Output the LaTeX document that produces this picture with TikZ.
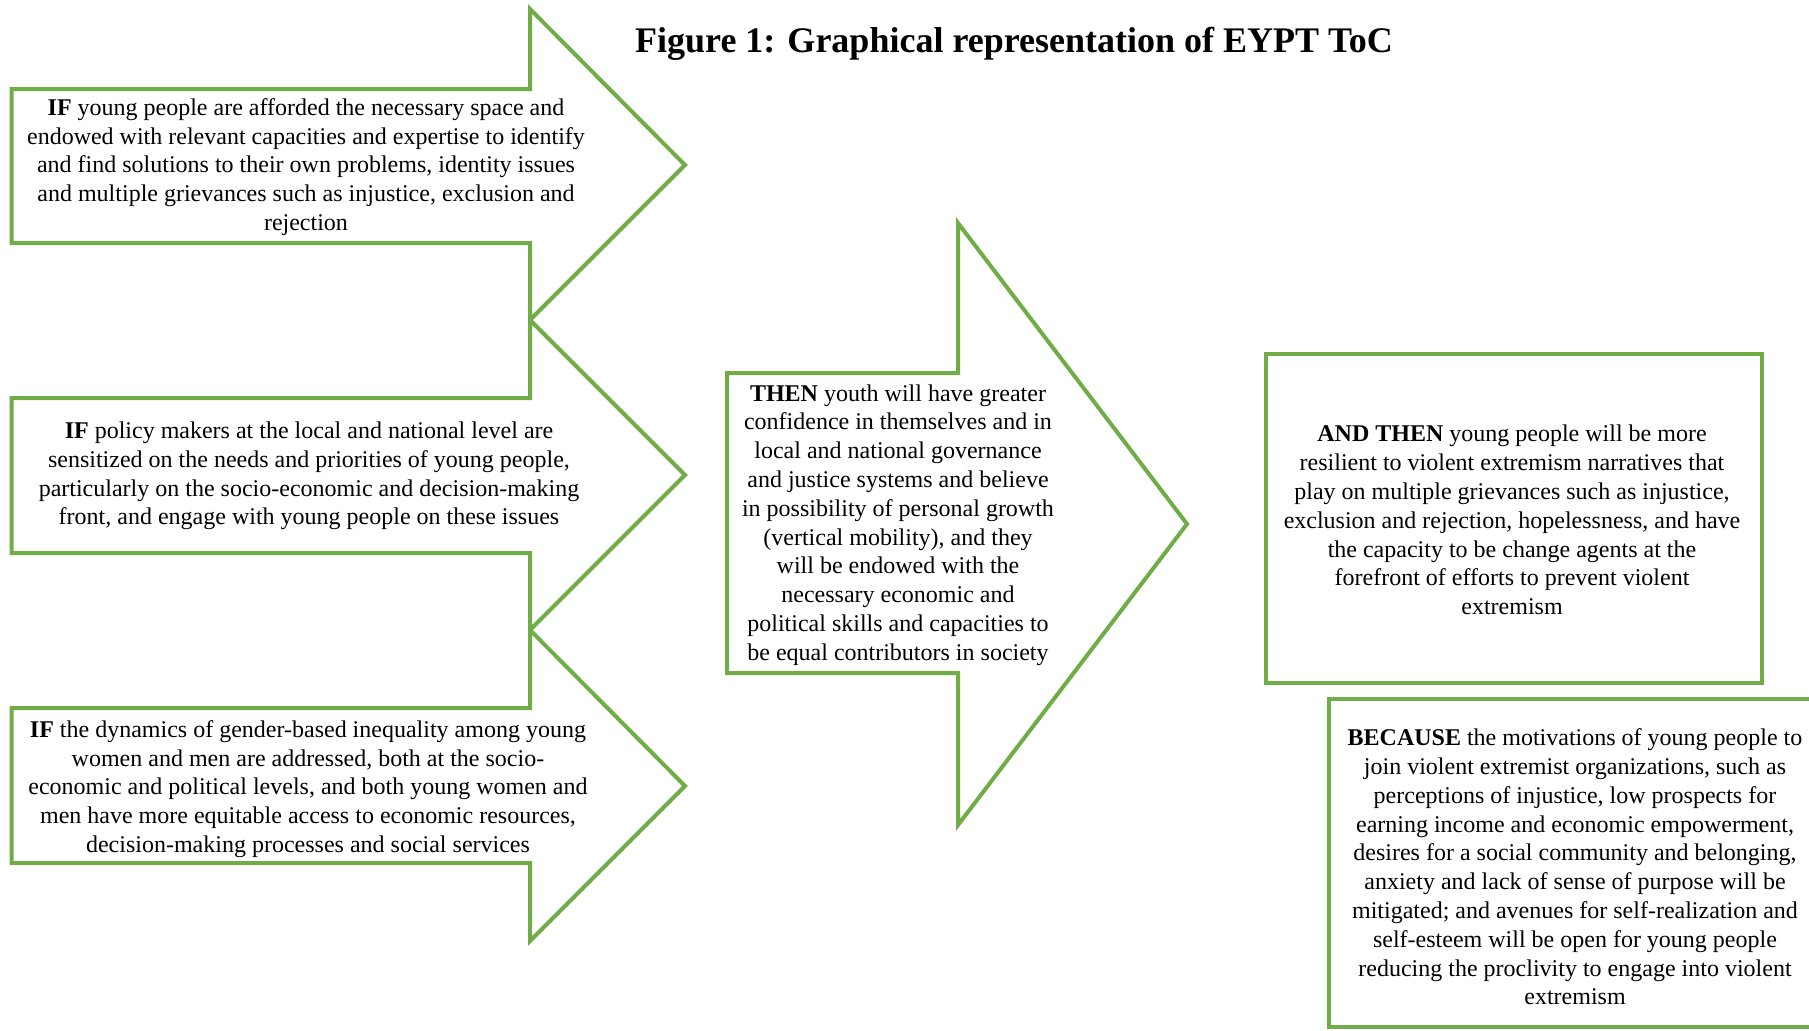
\documentclass[tikz,border=0pt]{standalone}
\usepackage{fontspec}
\setmainfont{Liberation Serif}
\definecolor{tocgreen}{HTML}{70AD47}
\begin{document}
\begin{tikzpicture}[x=0.5pt,y=-0.5pt,
  arrowline/.style={draw=tocgreen,line width=2pt,line join=miter,fill=white},
  txt/.style={align=center,font=\fontsize{12}{14.4}\selectfont,inner sep=0pt,text=black},
  titletxt/.style={font=\fontsize{18}{18}\selectfont\bfseries,inner sep=0pt,anchor=base}]
\useasboundingbox (0,0) rectangle (1809,1030);
\clip (0,0) rectangle (1809,1030);
\fill[white] (0,0) rectangle (1809,1030);
% left arrows
\draw[arrowline] (11.5,89) -- (530,89) -- (530,9) -- (685,165) -- (530,320) -- (530,243) -- (11.5,243) -- cycle;
\draw[arrowline] (11.5,398) -- (530,398) -- (530,320) -- (685,475) -- (530,630) -- (530,553) -- (11.5,553) -- cycle;
\draw[arrowline] (11.5,708) -- (530,708) -- (530,630) -- (685,786) -- (530,941) -- (530,863) -- (11.5,863) -- cycle;
% centre arrow
\draw[arrowline] (727,373) -- (958,373) -- (958,223) -- (1187,524) -- (958,825) -- (958,673) -- (727,673) -- cycle;
% boxes
\draw[arrowline] (1266,354) rectangle (1762,683);
\draw[arrowline] (1329,699) rectangle (1830,1027);
% title
\node[titletxt] (title) at (1014,52) {Figure 1: Graphical representation of EYPT ToC};
% texts
\node[txt] (if1) at (306,167) {\textbf{IF} young people are afforded the necessary space and\\
endowed with relevant capacities and expertise to identify\\
and find solutions to their own problems, identity issues\\
and multiple grievances such as injustice, exclusion and\\
rejection};
\node[txt] (if2) at (309,476) {\textbf{IF} policy makers at the local and national level are\\
sensitized on the needs and priorities of young people,\\
particularly on the socio-economic and decision-making\\
front, and engage with young people on these issues};
\node[txt] (if3) at (308,789) {\textbf{IF} the dynamics of gender-based inequality among young\\
women and men are addressed, both at the socio-\\
economic and political levels, and both young women and\\
men have more equitable access to economic resources,\\
decision-making processes and social services};
\node[txt] (then) at (898,525) {\textbf{THEN} youth will have greater\\
confidence in themselves and in\\
local and national governance\\
and justice systems and believe\\
in possibility of personal growth\\
(vertical mobility), and they\\
will be endowed with the\\
necessary economic and\\
political skills and capacities to\\
be equal contributors in society};
\node[txt] (andthen) at (1512,520) {\textbf{AND THEN} young people will be more\\
resilient to violent extremism narratives that\\
play on multiple grievances such as injustice,\\
exclusion and rejection, hopelessness, and have\\
the capacity to be change agents at the\\
forefront of efforts to prevent violent\\
extremism};
\node[txt] (because) at (1575,867) {\textbf{BECAUSE} the motivations of young people to\\
join violent extremist organizations, such as\\
perceptions of injustice, low prospects for\\
earning income and economic empowerment,\\
desires for a social community and belonging,\\
anxiety and lack of sense of purpose will be\\
mitigated; and avenues for self-realization and\\
self-esteem will be open for young people\\
reducing the proclivity to engage into violent\\
extremism};
\end{tikzpicture}
\end{document}
